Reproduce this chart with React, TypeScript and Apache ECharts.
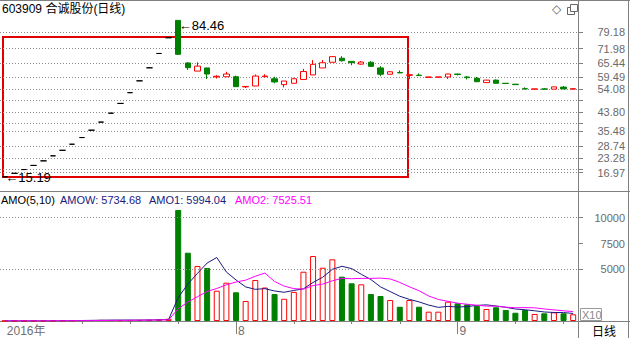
import React, { useEffect, useRef } from 'react';
import * as echarts from 'echarts';

const dates = [
  '2016-06-28','2016-06-29','2016-06-30','2016-07-01','2016-07-04','2016-07-05','2016-07-06','2016-07-07','2016-07-08','2016-07-11',
  '2016-07-12','2016-07-13','2016-07-14','2016-07-15','2016-07-18','2016-07-19','2016-07-20','2016-07-21','2016-07-22','2016-07-25',
  '2016-07-26','2016-07-27','2016-07-28','2016-07-29','2016-08-01','2016-08-02','2016-08-03','2016-08-04','2016-08-05','2016-08-08',
  '2016-08-09','2016-08-10','2016-08-11','2016-08-12','2016-08-15','2016-08-16','2016-08-17','2016-08-18','2016-08-19','2016-08-22',
  '2016-08-23','2016-08-24','2016-08-25','2016-08-26','2016-08-29','2016-08-30','2016-08-31','2016-09-01','2016-09-02','2016-09-05',
  '2016-09-06','2016-09-07','2016-09-08','2016-09-09','2016-09-12','2016-09-13','2016-09-14','2016-09-19','2016-09-20','2016-09-21',
];

const opens = [
  15.19,16.71,18.38,20.22,22.24,24.46,26.91,29.60,32.56,35.82,
  39.40,43.34,47.67,52.44,57.68,63.45,69.80,76.78,84.46,65.6,
  62.0,63.4,59.4,59.5,59.5,55.0,55.4,59.5,58.6,56.0,
  56.6,58.3,60.3,63.4,65.9,67.7,66.3,65.1,65.9,63.4,
  60.6,61.4,60.1,60.2,59.2,59.3,59.4,60.7,59.4,58.8,
  56.9,58.0,56.6,56.2,54.2,54.0,54.1,54.0,54.9,54.0,
];
const closes = [
  15.19,16.71,18.38,20.22,22.24,24.46,26.91,29.60,32.56,35.82,
  39.40,43.34,47.67,52.44,57.68,63.45,69.80,76.78,69.43,63.5,
  64.2,60.7,59.7,60.7,55.1,55.2,59.8,59.8,57.2,57.6,
  58.6,61.8,65.0,65.7,68.4,66.6,65.7,66.0,64.1,60.6,
  61.7,61.2,60.4,60.0,59.4,59.4,60.7,60.5,59.1,57.3,
  58.0,56.6,56.5,56.0,54.1,54.1,54.0,55.0,54.1,54.2,
];
const lows = [
  15.19,16.71,18.38,20.22,22.24,24.46,26.91,29.60,32.56,35.82,
  39.40,43.34,47.67,52.44,57.68,63.45,69.80,76.78,69.10,62.5,
  62.0,58.5,58.7,59.5,55.0,54.5,55.4,59.3,56.6,54.8,
  56.6,58.3,60.3,63.4,65.9,66.2,64.6,64.8,64.0,59.7,
  60.6,61.1,58.4,59.8,59.2,59.3,58.5,60.0,58.3,57.1,
  56.9,56.6,56.5,56.0,54.0,54.0,54.0,54.0,54.0,54.0,
];
const highs = [
  15.19,16.71,18.38,20.22,22.24,24.46,26.91,29.60,32.56,35.82,
  39.40,43.34,47.67,52.44,57.68,63.45,69.80,76.78,84.46,66.0,
  65.9,63.4,60.2,61.7,60.0,55.3,60.5,60.6,59.5,57.6,
  59.0,63.0,66.9,66.9,68.6,68.6,66.4,66.4,66.4,64.2,
  62.0,62.3,60.6,61.0,59.5,59.4,60.8,60.9,59.7,59.4,
  58.1,58.3,56.6,56.2,54.8,54.1,54.5,55.1,55.4,54.3,
];

const amounts = [
  15,10,12,18,22,30,45,60,80,95,
  110,90,75,85,105,130,160,220,10750,6610,
  5320,5130,2930,3710,2780,1940,3970,3240,2610,2150,
  2820,4770,6290,5160,5970,4290,3650,3550,2610,2420,
  2030,1380,2030,1380,900,900,1870,1710,1620,1450,
  1160,1330,1070,800,1070,680,745,840,745,650,
];

const priceTickValues = [16.97, 18.6, 23.28, 28.74, 35.48, 38.9, 43.80, 49.2, 54.08, 59.49, 65.44, 71.98, 79.18];
const priceLabelValues = [16.97, 23.28, 28.74, 35.48, 43.80, 54.08, 59.49, 65.44, 71.98, 79.18];
const amoLabelValues = [5000, 7500, 10000];
const amoGridValues = [5000, 10000];
const dateLabelIndices = [0, 24, 47];
const dateMinorTickIndices = [8, 13, 18, 30, 36, 41, 53, 58];

const titleText = '603909 合诚股份(日线)';
const amoTexts = ['AMO(5,10)', 'AMOW: 5734.68', 'AMO1: 5994.04', 'AMO2: 7525.51'];

const RED = '#ff0000';
const GREEN = '#008000';
const GRAY = '#808080';
const FONT = '"Liberation Sans", "Noto Sans CJK SC", sans-serif';

function movingAverage(values: number[], n: number) {
  return values.map((_, i) => {
    const part = values.slice(Math.max(0, i - n + 1), i + 1);
    return part.reduce((a, b) => a + b, 0) / part.length;
  });
}

export default function App() {
  const ref = useRef<HTMLDivElement>(null);

  useEffect(() => {
    document.body.style.margin = '0';
    if (!ref.current) return;
    const chart = echarts.init(ref.current, undefined, { renderer: 'svg' });

    const signs = opens.map((o, i) => {
      const c = closes[i];
      if (c > o) return 1;
      if (c < o) return -1;
      return i === 0 || c >= closes[i - 1] ? 1 : -1;
    });

    const candleData = opens.map((o, i) => {
      const v = [o, closes[i], lows[i], highs[i]];
      if (highs[i] === lows[i] && i < 18) {
        return { value: v, itemStyle: { color: '#000', color0: '#000', borderColor: '#000', borderColor0: '#000' } };
      }
      return { value: v };
    });

    const amoData = amounts.map((v, i) => ({
      value: v,
      itemStyle: signs[i] > 0
        ? { color: '#ffffff', borderColor: RED, borderWidth: 1 }
        : { color: GREEN, borderColor: GREEN, borderWidth: 1 },
    }));

    const ma5 = movingAverage(amounts, 5);
    const ma10 = movingAverage(amounts, 10);

    let hiIdx = 0, loIdx = 0;
    highs.forEach((h, i) => { if (h > highs[hiIdx]) hiIdx = i; });
    lows.forEach((l, i) => { if (l < lows[loIdx]) loIdx = i; });

    const labelAxisFont = { color: '#6a6a6a', fontSize: 11, lineHeight: 12, fontFamily: FONT };

    const option: any = {
      animation: false,
      backgroundColor: '#ffffff',
      textStyle: { fontFamily: FONT },
      grid: [
        { left: 0, right: 52, top: 14, height: 177 },
        { left: 0, right: 52, top: 205, height: 116 },
      ],
      xAxis: [
        {
          type: 'category', gridIndex: 0, data: dates, boundaryGap: true,
          axisLine: { show: false }, axisTick: { show: false }, axisLabel: { show: false }, splitLine: { show: false },
        },
        {
          type: 'category', gridIndex: 1, data: dates, boundaryGap: true,
          axisLine: { show: true, lineStyle: { color: GRAY, width: 1 } },
          axisTick: {
            show: true, alignWithLabel: true, length: 13,
            interval: (index: number) => index > 0 && dateLabelIndices.includes(index),
            lineStyle: { color: GRAY },
          },
          axisLabel: {
            show: true, showMinLabel: true,
            interval: (index: number) => dateLabelIndices.includes(index),
            formatter: (value: string, index: number) =>
              index === 0 ? value.slice(0, 4) + '年' : String(Number(value.slice(5, 7))),
            align: 'left', margin: 4, padding: [0, 0, 0, 2],
            color: '#707070', fontSize: 12, fontFamily: FONT,
          },
          splitLine: { show: false },
        },
        {
          type: 'category', gridIndex: 1, data: dates, boundaryGap: true, position: 'bottom',
          axisLine: { show: false },
          axisTick: {
            show: true, alignWithLabel: true, length: 3,
            interval: (index: number) => dateMinorTickIndices.includes(index),
            lineStyle: { color: GRAY },
          },
          axisLabel: { show: false },
          splitLine: { show: false },
        },
      ],
      yAxis: [
        {
          type: 'value', gridIndex: 0, position: 'right', min: 8.884, max: 87.286, scale: true,
          axisLine: { show: true, lineStyle: { color: GRAY } },
          axisTick: { show: true, customValues: priceTickValues, length: 5, lineStyle: { color: GRAY } },
          axisLabel: {
            customValues: priceLabelValues, formatter: (v: number) => v.toFixed(2),
            align: 'right', margin: 47, ...labelAxisFont,
          },
          splitLine: { show: true, lineStyle: { color: '#8c8c8c', type: [1, 2], width: 1 } },
        },
        {
          type: 'value', gridIndex: 1, position: 'right', min: 0, max: 11229,
          axisLine: { show: true, lineStyle: { color: GRAY } },
          axisTick: { show: true, customValues: amoLabelValues, length: 5, lineStyle: { color: GRAY } },
          axisLabel: {
            customValues: amoLabelValues, formatter: (v: number) => String(v),
            align: 'right', margin: 47, ...labelAxisFont,
          },
          splitLine: { show: false },
        },
      ],
      series: [
        {
          type: 'candlestick', xAxisIndex: 0, yAxisIndex: 0, data: candleData, barWidth: 6,
          itemStyle: { color: '#ffffff', color0: GREEN, borderColor: RED, borderColor0: GREEN, borderWidth: 1 },
          markPoint: {
            silent: true,
            symbol: 'circle', symbolSize: 1,
            itemStyle: { color: 'rgba(0,0,0,0)' },
            data: [
              {
                coord: [hiIdx, highs[hiIdx]],
                label: { show: true, position: 'right', distance: 0, offset: [0, 5], formatter: '←' + highs[hiIdx].toFixed(2), color: '#000', fontSize: 13, fontFamily: FONT },
              },
              {
                coord: [loIdx, lows[loIdx]],
                label: { show: true, position: 'right', distance: 0, offset: [0, 1], formatter: '←' + lows[loIdx].toFixed(2), color: '#000', fontSize: 13, fontFamily: FONT },
              },
            ],
          },
        },
        {
          type: 'bar', xAxisIndex: 1, yAxisIndex: 1, data: amoData, barWidth: 6,
          markLine: {
            silent: true, symbol: 'none', label: { show: false },
            lineStyle: { color: '#8c8c8c', type: [1, 2], width: 1 },
            data: amoGridValues.map((v) => ({ yAxis: v })),
          },
        },
        {
          type: 'line', xAxisIndex: 1, yAxisIndex: 1, data: ma5, showSymbol: false, symbol: 'none',
          lineStyle: { color: '#1a1a80', width: 1 },
        },
        {
          type: 'line', xAxisIndex: 1, yAxisIndex: 1, data: ma10, showSymbol: false, symbol: 'none',
          lineStyle: { color: '#ff00ff', width: 1 },
        },
      ],
      graphic: [
        { type: 'line', shape: { x1: 0, y1: 0.5, x2: 630, y2: 0.5 }, style: { stroke: GRAY, lineWidth: 1 } },
        { type: 'line', shape: { x1: 578.5, y1: 0, x2: 578.5, y2: 338 }, style: { stroke: GRAY, lineWidth: 1 } },
        { type: 'line', shape: { x1: 628.5, y1: 0, x2: 628.5, y2: 338 }, style: { stroke: GRAY, lineWidth: 1 } },
        { type: 'line', shape: { x1: 0, y1: 191.5, x2: 630, y2: 191.5 }, style: { stroke: GRAY, lineWidth: 1 } },
        { type: 'line', shape: { x1: 578, y1: 321.5, x2: 630, y2: 321.5 }, style: { stroke: GRAY, lineWidth: 1 } },
        { type: 'text', x: 2, y: 3, style: { text: titleText, fill: '#000', fontSize: 12, fontFamily: FONT } },
        { type: 'text', x: 552, y: 3, style: { text: '◇', fill: '#666', fontSize: 12, fontFamily: 'DejaVu Sans' } },
        { type: 'rect', shape: { x: 567.5, y: 7.5, width: 7, height: 7 }, style: { fill: '#fff', stroke: '#666', lineWidth: 1 } },
        { type: 'rect', shape: { x: 570.5, y: 4.5, width: 7, height: 7 }, style: { fill: '#fff', stroke: '#666', lineWidth: 1 } },
        { type: 'text', x: 1, y: 194, style: { text: amoTexts[0], fill: '#000', fontSize: 11, fontFamily: FONT } },
        { type: 'text', x: 60, y: 194, style: { text: amoTexts[1], fill: '#1a1a80', fontSize: 11, fontFamily: FONT } },
        { type: 'text', x: 149, y: 194, style: { text: amoTexts[2], fill: '#1a1a80', fontSize: 11, fontFamily: FONT } },
        { type: 'text', x: 235, y: 194, style: { text: amoTexts[3], fill: '#ff00ff', fontSize: 11, fontFamily: FONT } },
        { type: 'rect', shape: { x: 3, y: 37, width: 405, height: 140 }, style: { fill: 'none', stroke: '#e00000', lineWidth: 2 } },
        { type: 'rect', shape: { x: 580.5, y: 308.5, width: 21, height: 12 }, style: { fill: '#fff', stroke: '#999', lineWidth: 1 } },
        { type: 'text', x: 582, y: 309, style: { text: 'X10', fill: '#888', fontSize: 11, fontFamily: FONT } },
        { type: 'text', x: 592, y: 324, style: { text: '日线', fill: '#000', fontSize: 12, fontFamily: '"Noto Sans CJK SC", sans-serif' } },
      ],
    };

    chart.setOption(option);
    return () => chart.dispose();
  }, []);

  return <div ref={ref} style={{ position: 'absolute', left: 0, top: 0, width: 630, height: 338, background: '#fff' }} />;
}
